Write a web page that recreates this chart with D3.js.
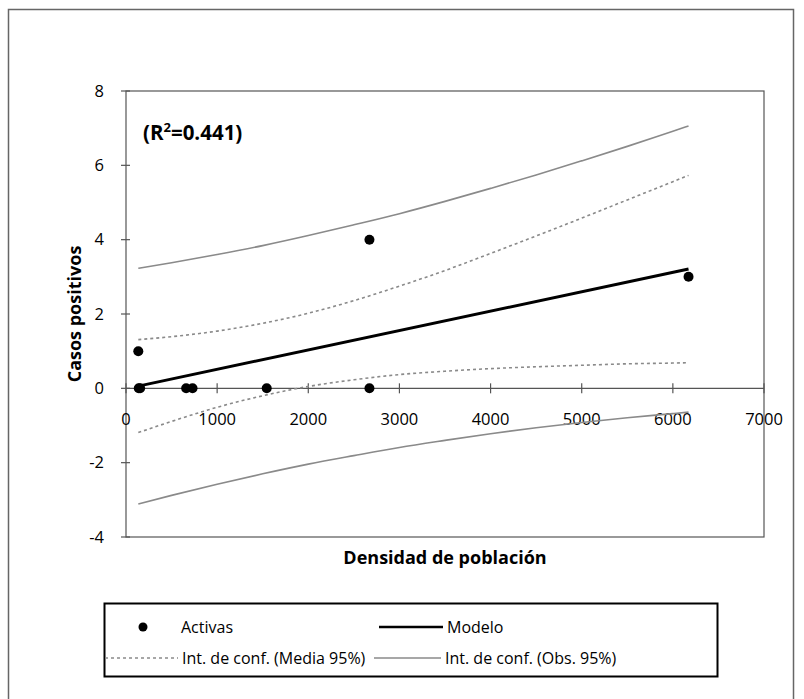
<!DOCTYPE html>
<html>
<head>
	<meta charset="UTF-8">
	<title>Casos positivos vs densidad de población</title>
	<style>
		body {
			margin: 0;
			background: white;
			font-family: "Open Sans", Lato, sans-serif;
		}
		.tick-label { font-size: 16.5px; fill: #000; }
		.legend-label { font-size: 16px; fill: #000; }
		.axis-title { font-size: 18px; font-weight: bold; fill: #000; }
		.frame { fill: none; stroke: #555; stroke-width: 1.2; }
	</style>
</head>
<body>

<svg id="chart" width="804" height="699"></svg>

<script src="https://d3js.org/d3.v7.min.js"></script>
<script>

	// observed points (Activas)
	let activasX = [135, 140, 155, 660, 730, 1544, 2671, 2671, 6172];
	let activasY = [1, 0, 0, 0, 0, 0, 4, 0, 3];

	// fitted model line
	let modeloX = [135, 6172];
	let modeloY = [0.06, 3.21];

	// confidence bands
	let ciX = [135, 500, 1000, 1500, 2000, 2500, 3000, 3500, 4000, 4500, 5000, 5500, 6000, 6172];
	let mediaUpper = [1.31, 1.39, 1.54, 1.75, 2.02, 2.36, 2.75, 3.17, 3.63, 4.10, 4.58, 5.07, 5.56, 5.73];
	let mediaLower = [-1.19, -0.89, -0.51, -0.20, 0.05, 0.23, 0.37, 0.46, 0.53, 0.58, 0.62, 0.66, 0.68, 0.69];
	let obsUpper = [3.23, 3.38, 3.60, 3.84, 4.11, 4.40, 4.70, 5.03, 5.38, 5.74, 6.12, 6.51, 6.92, 7.06];
	let obsLower = [-3.11, -2.88, -2.58, -2.30, -2.04, -1.81, -1.59, -1.40, -1.22, -1.06, -0.92, -0.79, -0.68, -0.64];

	let xTicks = [0, 1000, 2000, 3000, 4000, 5000, 6000, 7000];
	let yTicks = [-4, -2, 0, 2, 4, 6, 8];

	let xTitle = "Densidad de población";
	let yTitle = "Casos positivos";
	let r2Text = "0.441";

	let svg = d3.select("#chart");

	// outer border of the figure
	svg.append("rect")
		.attr("x", 8.5).attr("y", 9.5)
		.attr("width", 785).attr("height", 720)
		.attr("fill", "none")
		.attr("stroke", "#666")
		.attr("stroke-width", 1.5);

	let plot = {left: 126, top: 91, right: 764, bottom: 537};

	let x = d3.scaleLinear().domain([0, 7000]).range([plot.left, plot.right]);
	let y = d3.scaleLinear().domain([-4, 8]).range([plot.bottom, plot.top]);

	// plot area frame
	svg.append("rect")
		.attr("class", "frame")
		.attr("x", plot.left).attr("y", plot.top)
		.attr("width", plot.right - plot.left)
		.attr("height", plot.bottom - plot.top);

	// y axis ticks + labels
	let yAxis = svg.append("g").attr("id", "yAxis");
	yAxis.selectAll("line")
		.data(yTicks)
		.enter()
		.append("line")
		.attr("x1", plot.left - 5).attr("x2", plot.left + 4)
		.attr("y1", d => y(d)).attr("y2", d => y(d))
		.attr("stroke", "#555").attr("stroke-width", 1.2);
	yAxis.selectAll("text")
		.data(yTicks)
		.enter()
		.append("text")
		.attr("class", "tick-label")
		.attr("x", plot.left - 22)
		.attr("y", d => y(d))
		.attr("dy", "0.35em")
		.attr("text-anchor", "end")
		.text(d => d);

	// x axis sits on y = 0
	let xAxis = svg.append("g").attr("id", "xAxis");
	xAxis.append("line")
		.attr("x1", plot.left).attr("x2", plot.right)
		.attr("y1", y(0)).attr("y2", y(0))
		.attr("stroke", "#555").attr("stroke-width", 1.2);
	xAxis.selectAll("line.tick")
		.data(xTicks)
		.enter()
		.append("line")
		.attr("class", "tick")
		.attr("x1", d => x(d)).attr("x2", d => x(d))
		.attr("y1", y(0) - 5).attr("y2", y(0) + 5)
		.attr("stroke", "#555").attr("stroke-width", 1.2);
	xAxis.selectAll("text")
		.data(xTicks)
		.enter()
		.append("text")
		.attr("class", "tick-label")
		.attr("x", d => x(d))
		.attr("y", y(0) + 37)
		.attr("text-anchor", "middle")
		.text(d => d);

	// axis titles
	svg.append("text")
		.attr("class", "axis-title")
		.attr("x", (plot.left + plot.right) / 2)
		.attr("y", 564)
		.attr("text-anchor", "middle")
		.text(xTitle);

	svg.append("text")
		.attr("class", "axis-title")
		.attr("transform", "translate(81," + (plot.top + plot.bottom) / 2 + ") rotate(-90)")
		.attr("text-anchor", "middle")
		.text(yTitle);

	// R2 annotation
	let r2 = svg.append("text")
		.attr("x", 143).attr("y", 140)
		.attr("font-size", "20.5px")
		.attr("font-weight", "bold")
		.attr("fill", "#000");
	r2.append("tspan").text("(R");
	r2.append("tspan").attr("font-size", "13px").attr("dy", "-8").text("2");
	r2.append("tspan").attr("dy", "8").text("=" + r2Text + ")");

	// curves
	let ciLine = d3.line()
		.x(d => x(d[0]))
		.y(d => y(d[1]))
		.curve(d3.curveMonotoneX);

	let bands = [
		{vals: obsUpper, dash: null},
		{vals: obsLower, dash: null},
		{vals: mediaUpper, dash: "3,3"},
		{vals: mediaLower, dash: "3,3"}
	];

	svg.append("g")
		.attr("id", "bands")
		.selectAll("path")
		.data(bands)
		.enter()
		.append("path")
		.attr("d", d => ciLine(ciX.map((v, i) => [v, d.vals[i]])))
		.attr("fill", "none")
		.attr("stroke", "#8a8a8a")
		.attr("stroke-width", 1.6)
		.attr("stroke-dasharray", d => d.dash);

	svg.append("path")
		.attr("d", ciLine(modeloX.map((v, i) => [v, modeloY[i]])))
		.attr("fill", "none")
		.attr("stroke", "#000")
		.attr("stroke-width", 3);

	svg.append("g")
		.attr("id", "points")
		.selectAll("circle")
		.data(activasX.map((v, i) => [v, activasY[i]]))
		.enter()
		.append("circle")
		.attr("cx", d => x(d[0]))
		.attr("cy", d => y(d[1]))
		.attr("r", 5)
		.attr("fill", "#000");

	// legend
	let legend = svg.append("g").attr("id", "legend");
	legend.append("rect")
		.attr("x", 104.5).attr("y", 603.5)
		.attr("width", 613).attr("height", 73)
		.attr("fill", "white")
		.attr("stroke", "#000")
		.attr("stroke-width", 2);

	let legendItems = [
		{label: "Activas", type: "dot", x: 143, y: 627, tx: 181},
		{label: "Modelo", type: "model", x: 379, y: 627, tx: 447},
		{label: "Int. de conf. (Media 95%)", type: "media", x: 105, y: 658, tx: 182},
		{label: "Int. de conf. (Obs. 95%)", type: "obs", x: 374, y: 658, tx: 445}
	];

	legendItems.forEach(d => {
		if (d.type == "dot") {
			legend.append("circle").attr("cx", d.x).attr("cy", d.y).attr("r", 4.5).attr("fill", "#000");
		} else {
			let x2 = d.tx - 4;
			legend.append("line")
				.attr("x1", d.x).attr("x2", x2)
				.attr("y1", d.y).attr("y2", d.y)
				.attr("stroke", d.type == "model" ? "#000" : "#8a8a8a")
				.attr("stroke-width", d.type == "model" ? 2.5 : 1.6)
				.attr("stroke-dasharray", d.type == "media" ? "3,3" : null);
		}
		legend.append("text")
			.attr("class", "legend-label")
			.attr("x", d.tx).attr("y", d.y)
			.attr("dy", "0.35em")
			.text(d.label);
	});

</script>
</body>
</html>
